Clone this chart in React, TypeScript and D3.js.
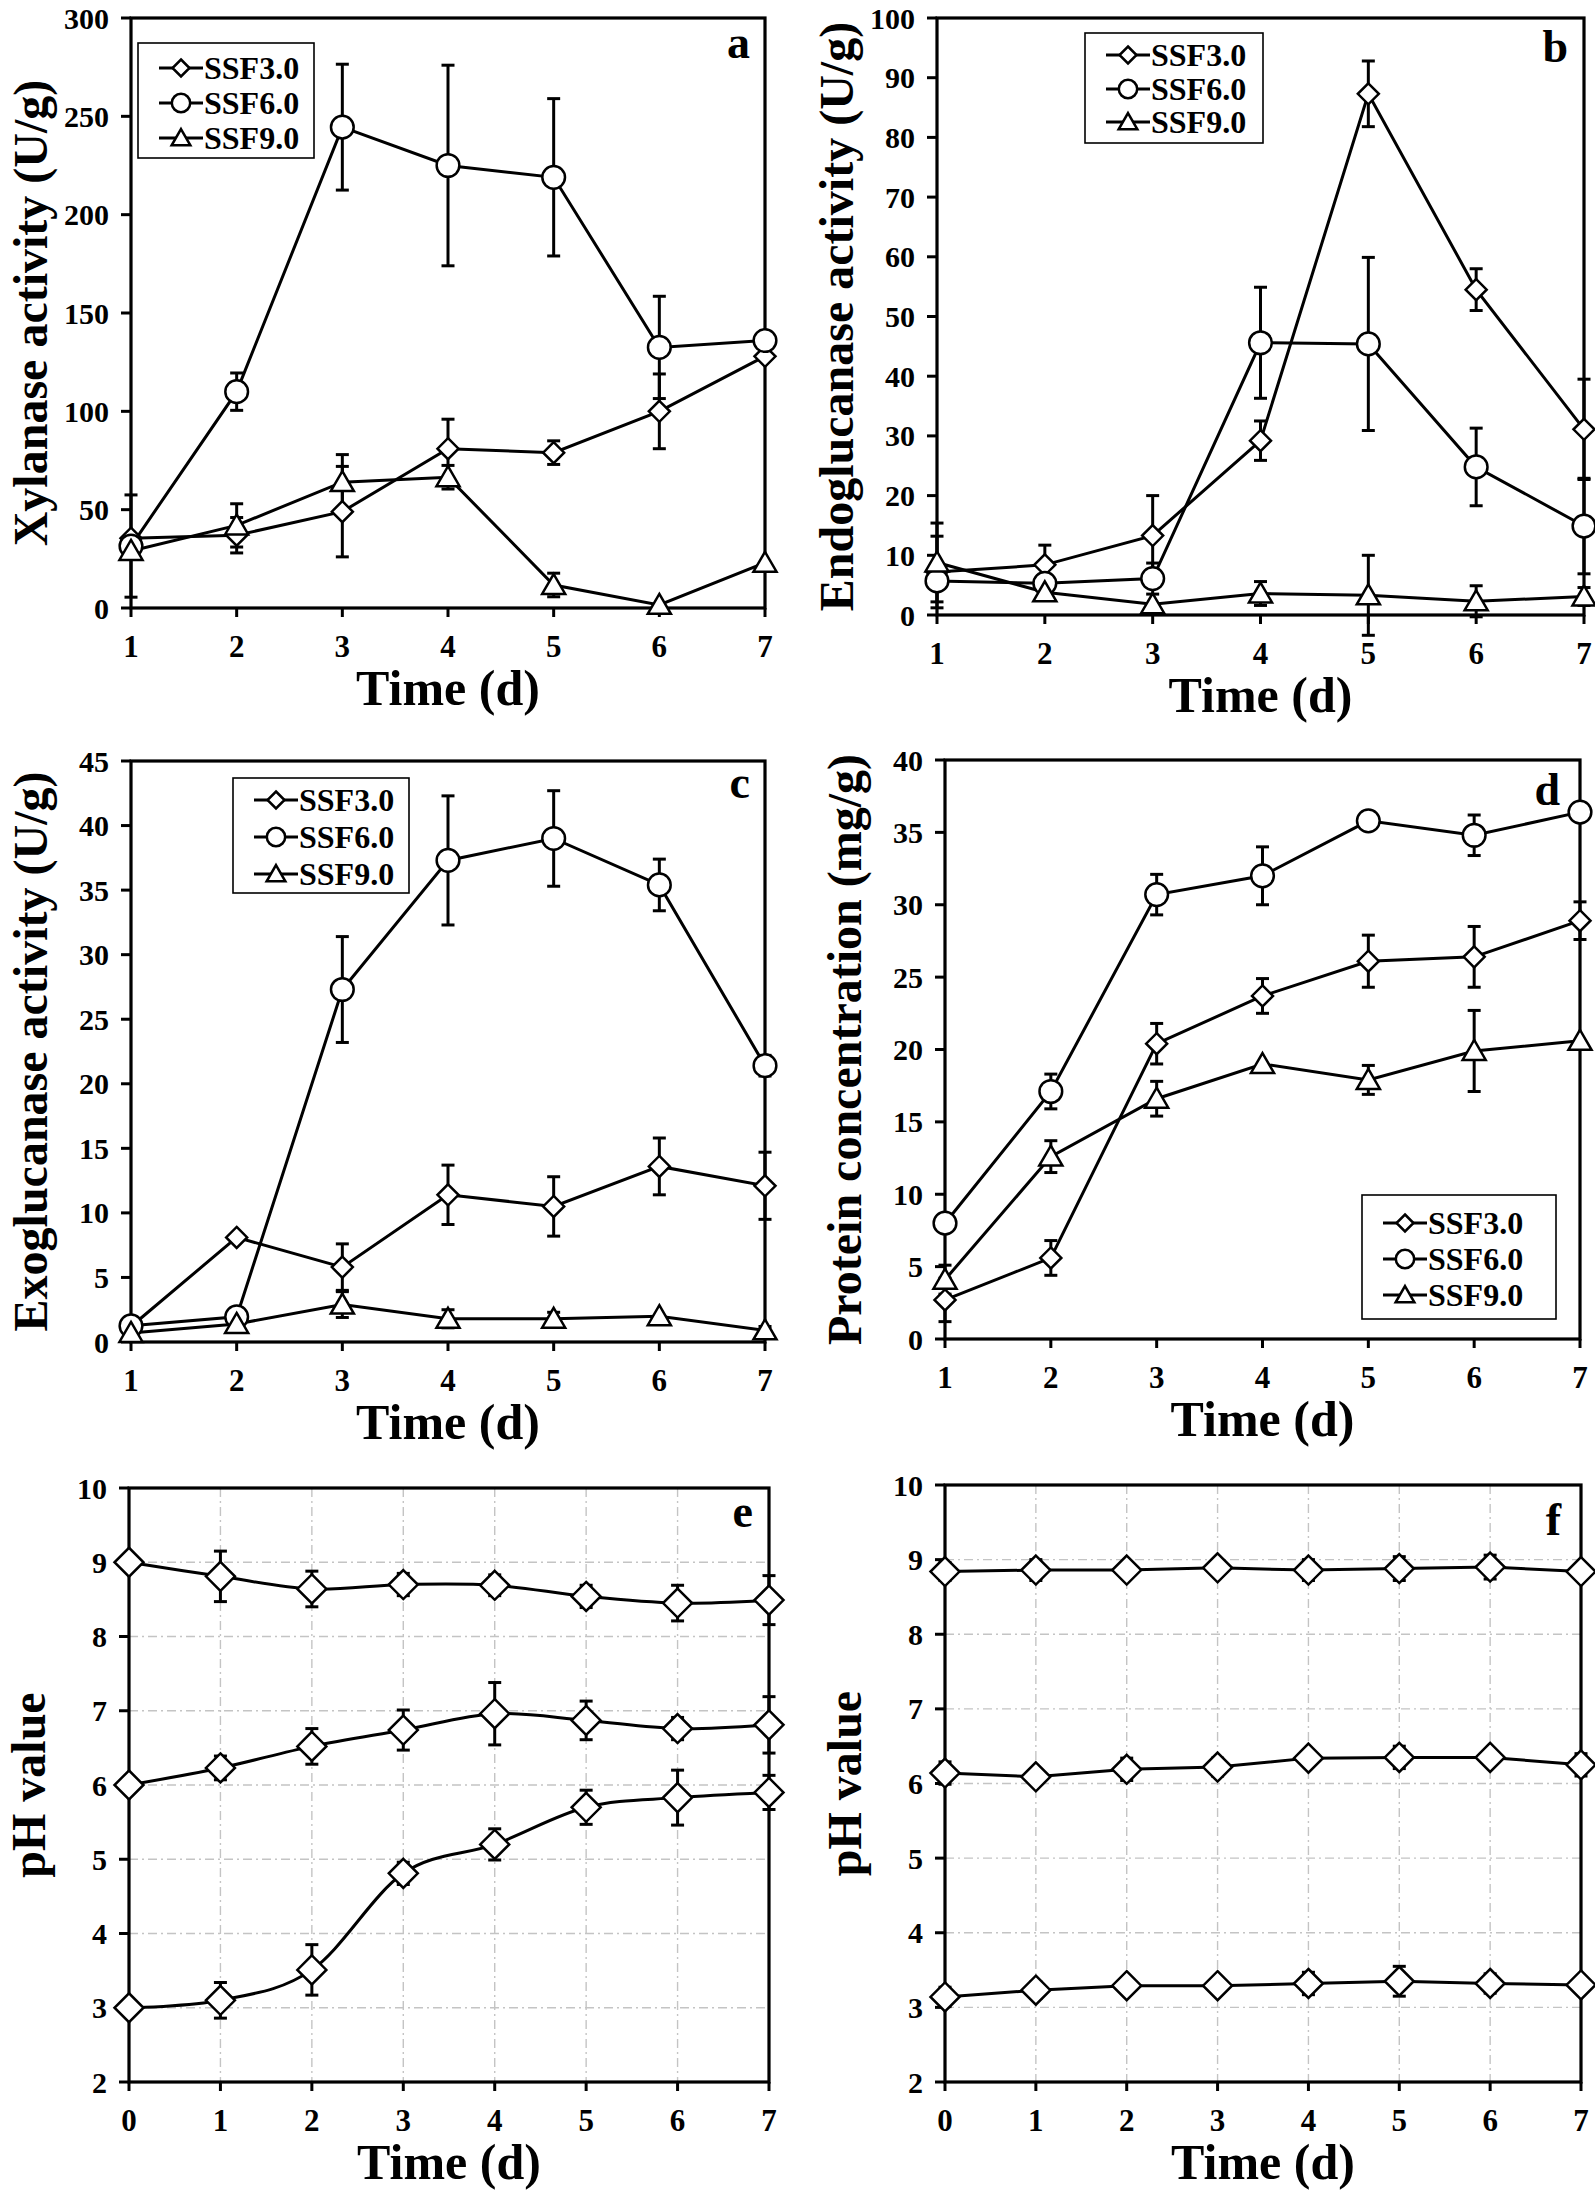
import React from "react";
import * as d3 from "d3";

// ---------- data ----------
const daysAD = [1, 2, 3, 4, 5, 6, 7];
const daysEF = [0, 1, 2, 3, 4, 5, 6, 7];
const seriesNames = ["SSF3.0", "SSF6.0", "SSF9.0"];

const xylSSF3 = [35.5, 37, 49, 81, 79, 100, 128];
const xylSSF3Err = [0, 9, 23, 15, 6, 19, 0];
const xylSSF6 = [31.5, 110, 244.5, 225, 219, 132.5, 136];
const xylSSF6Err = [26, 9.5, 32, 51, 40, 26, 0];
const xylSSF9 = [29, 42, 64, 66.5, 11.7, 1.6, 23];
const xylSSF9Err = [0, 11, 14, 6, 6, 0, 0];

const endoSSF3 = [7.2, 8.4, 13.3, 29.2, 87.3, 54.5, 31.1];
const endoSSF3Err = [6, 3.3, 6.7, 3.3, 5.5, 3.5, 8.4];
const endoSSF6 = [5.7, 5.3, 6.1, 45.6, 45.4, 24.8, 14.9];
const endoSSF6Err = [0, 0, 2.6, 9.3, 14.5, 6.5, 8];
const endoSSF9 = [8.8, 3.8, 1.8, 3.6, 3.3, 2.3, 3.1];
const endoSSF9Err = [6.6, 0, 0, 2, 6.7, 2.6, 1.5];

const exoSSF3 = [1.2, 8.1, 5.8, 11.4, 10.5, 13.6, 12.1];
const exoSSF3Err = [0, 0, 1.8, 2.3, 2.3, 2.2, 2.6];
const exoSSF6 = [1.25, 1.95, 27.3, 37.3, 39.0, 35.4, 21.4];
const exoSSF6Err = [0, 0, 4.1, 5, 3.7, 2, 0.8];
const exoSSF9 = [0.7, 1.4, 2.9, 1.8, 1.8, 2.0, 0.9];
const exoSSF9Err = [0, 0, 1, 0.7, 0.5, 0, 0.3];

const protSSF3 = [2.7, 5.6, 20.4, 23.7, 26.1, 26.4, 28.9];
const protSSF3Err = [1.5, 1.2, 1.4, 1.2, 1.8, 2.1, 1.3];
const protSSF6 = [8.0, 17.1, 30.7, 32.0, 35.8, 34.8, 36.4];
const protSSF6Err = [0, 1.2, 1.4, 2, 0, 1.4, 0];
const protSSF9 = [4.1, 12.6, 16.6, 19.0, 17.9, 19.9, 20.6];
const protSSF9Err = [1, 1.1, 1.2, 0, 1, 2.8, 0];

const phETop = [9.0, 8.81, 8.64, 8.70, 8.69, 8.54, 8.45, 8.49];
const phETopErr = [0, 0.34, 0.24, 0.15, 0.14, 0.15, 0.24, 0.33];
const phEMid = [6.0, 6.23, 6.52, 6.74, 6.96, 6.87, 6.76, 6.81];
const phEMidErr = [0, 0.16, 0.24, 0.27, 0.42, 0.26, 0.15, 0.38];
const phEBot = [3.0, 3.10, 3.51, 4.81, 5.2, 5.7, 5.83, 5.9];
const phEBotErr = [0, 0.24, 0.34, 0.15, 0.21, 0.23, 0.37, 0.23];

const phFTop = [8.84, 8.86, 8.86, 8.89, 8.86, 8.88, 8.90, 8.84];
const phFTopErr = [0.12, 0.14, 0, 0.1, 0.14, 0.16, 0.16, 0];
const phFMid = [6.14, 6.09, 6.19, 6.22, 6.34, 6.35, 6.35, 6.25];
const phFMidErr = [0.15, 0, 0.15, 0.12, 0, 0.15, 0, 0.15];
const phFBot = [3.14, 3.23, 3.29, 3.29, 3.32, 3.35, 3.32, 3.3];
const phFBotErr = [0.13, 0.11, 0, 0, 0.15, 0.2, 0.13, 0];

const ticksXyl = [0, 50, 100, 150, 200, 250, 300];
const ticksEndo = [0, 10, 20, 30, 40, 50, 60, 70, 80, 90, 100];
const ticksExo = [0, 5, 10, 15, 20, 25, 30, 35, 40, 45];
const ticksProt = [0, 5, 10, 15, 20, 25, 30, 35, 40];
const ticksPH = [2, 3, 4, 5, 6, 7, 8, 9, 10];

// ---------- drawing helpers ----------
const FONT = "'Liberation Serif', 'Times New Roman', Times, serif";
type Mk = "diamond" | "circle" | "triangle";

function markerPath(type: Mk, x: number, y: number, s: number) {
  if (type === "diamond")
    return `M${x},${y - s}L${x + s},${y}L${x},${y + s}L${x - s},${y}Z`;
  if (type === "triangle") {
    const w = s * 1.1, h = s * 0.95;
    return `M${x},${y - h * 1.1}L${x + w},${y + h * 0.9}L${x - w},${y + h * 0.9}Z`;
  }
  return "";
}

function Marker({ type, x, y, s }: { type: Mk; x: number; y: number; s: number }) {
  if (type === "circle")
    return <circle cx={x} cy={y} r={s * 1.08} fill="#fff" stroke="#000" strokeWidth={2.5} />;
  return <path d={markerPath(type, x, y, s)} fill="#fff" stroke="#000" strokeWidth={2.5} strokeLinejoin="miter" />;
}

type Series = { values: number[]; errs: number[]; marker: Mk };

type PanelProps = {
  x0: number; x1: number; yTop: number; yBot: number;
  xDom: [number, number]; xs: number[]; yDom: [number, number]; yTicks: number[];
  series: Series[]; letter: string; letterDx: number; letterDy: number;
  yTitle: string; grid?: boolean; smooth?: boolean; msize: number;
  legend?: { x: number; y: number; w: number; h: number; rows: number[] };
};

function Panel(p: PanelProps) {
  const x = d3.scaleLinear().domain(p.xDom).range([p.x0, p.x1]);
  const y = d3.scaleLinear().domain(p.yDom).range([p.yBot, p.yTop]);
  const line = d3
    .line<number>()
    .x((_, i) => x(p.xs[i]))
    .y((v) => y(v))
    .curve(p.smooth ? d3.curveCardinal.tension(0) : d3.curveLinear);
  const xt = d3.range(p.xDom[0], p.xDom[1] + 1);
  const cx = (p.x0 + p.x1) / 2;
  const cy = (p.yTop + p.yBot) / 2;
  return (
    <g>
      {p.grid && (
        <g stroke="#c4c4c4" strokeWidth={1.4} strokeDasharray="9,4,2,4">
          {xt.slice(1, -1).map((t) => (
            <line key={"gx" + t} x1={x(t)} x2={x(t)} y1={p.yTop} y2={p.yBot} />
          ))}
          {p.yTicks.slice(1, -1).map((t) => (
            <line key={"gy" + t} x1={p.x0} x2={p.x1} y1={y(t)} y2={y(t)} />
          ))}
        </g>
      )}
      {/* frame */}
      <rect x={p.x0} y={p.yTop} width={p.x1 - p.x0} height={p.yBot - p.yTop} fill="none" stroke="#000" strokeWidth={3.2} />
      {/* y ticks */}
      {p.yTicks.map((t) => (
        <g key={"yt" + t}>
          <line x1={p.x0 - 10} x2={p.x0} y1={y(t)} y2={y(t)} stroke="#000" strokeWidth={3} />
          <text x={p.x0 - 22} y={y(t)} dy="0.35em" textAnchor="end" fontFamily={FONT} fontWeight="bold" fontSize={30}>
            {t}
          </text>
        </g>
      ))}
      {/* x ticks */}
      {xt.map((t) => (
        <g key={"xt" + t}>
          <line x1={x(t)} x2={x(t)} y1={p.yBot} y2={p.yBot + 9} stroke="#000" strokeWidth={3} />
          <text x={x(t)} y={p.yBot + 49} textAnchor="middle" fontFamily={FONT} fontWeight="bold" fontSize={31}>
            {t}
          </text>
        </g>
      ))}
      {/* titles */}
      <text x={cx} y={p.yBot + 97} textAnchor="middle" fontFamily={FONT} fontWeight="bold" fontSize={50}>
        Time (d)
      </text>
      <text
        transform={`translate(${p.x0 - 84},${cy}) rotate(-90)`}
        textAnchor="middle"
        fontFamily={FONT}
        fontWeight="bold"
        fontSize={48}
      >
        {p.yTitle}
      </text>
      <text x={p.x1 - p.letterDx} y={p.yTop + p.letterDy} textAnchor="end" fontFamily={FONT} fontWeight="bold" fontSize={46}>
        {p.letter}
      </text>
      {/* lines */}
      {p.series.map((s, si) => (
        <path key={"l" + si} d={line(s.values) || ""} fill="none" stroke="#000" strokeWidth={3} />
      ))}
      {/* error bars */}
      {p.series.map((s, si) =>
        s.values.map((v, i) =>
          s.errs[i] > 0 ? (
            <g key={"e" + si + "-" + i} stroke="#000" strokeWidth={3}>
              <line x1={x(p.xs[i])} x2={x(p.xs[i])} y1={y(v - s.errs[i])} y2={y(v + s.errs[i])} />
              <line x1={x(p.xs[i]) - 6.5} x2={x(p.xs[i]) + 6.5} y1={y(v + s.errs[i])} y2={y(v + s.errs[i])} />
              <line x1={x(p.xs[i]) - 6.5} x2={x(p.xs[i]) + 6.5} y1={y(v - s.errs[i])} y2={y(v - s.errs[i])} />
            </g>
          ) : null
        )
      )}
      {/* markers */}
      {p.series.map((s, si) =>
        s.values.map((v, i) => (
          <Marker key={"m" + si + "-" + i} type={s.marker} x={x(p.xs[i])} y={y(v)} s={p.msize} />
        ))
      )}
      {/* legend */}
      {p.legend && (
        <g>
          <rect x={p.legend.x} y={p.legend.y} width={p.legend.w} height={p.legend.h} fill="#fff" stroke="#000" strokeWidth={1.6} />
          {p.series.map((s, si) => {
            const ry = p.legend!.y + p.legend!.rows[si];
            const lx = p.legend!.x;
            return (
              <g key={"lg" + si}>
                <line x1={lx + 21} x2={lx + 65} y1={ry} y2={ry} stroke="#000" strokeWidth={3} />
                <Marker type={s.marker} x={lx + 43} y={ry} s={8.5} />
                <text x={lx + 66} y={ry + 11} fontFamily={FONT} fontWeight="bold" fontSize={32}>
                  {seriesNames[si]}
                </text>
              </g>
            );
          })}
        </g>
      )}
    </g>
  );
}

const mk3: Mk[] = ["diamond", "circle", "triangle"];
const legendRows = [25, 60, 95];

export default function App() {
  return (
    <svg
      width={1595}
      height={2193}
      style={{ position: "absolute", left: 0, top: 0, background: "#fff" }}
      xmlns="http://www.w3.org/2000/svg"
    >
      <rect width={1595} height={2193} fill="#fff" />
      <Panel
        x0={131} x1={765} yTop={18} yBot={608}
        xDom={[1, 7]} xs={daysAD} yDom={[0, 300]} yTicks={ticksXyl}
        series={[
          { values: xylSSF3, errs: xylSSF3Err, marker: mk3[0] },
          { values: xylSSF6, errs: xylSSF6Err, marker: mk3[1] },
          { values: xylSSF9, errs: xylSSF9Err, marker: mk3[2] },
        ]}
        letter="a" letterDx={15} letterDy={40} msize={10.5}
        yTitle="Xylanase activity (U/g)"
        legend={{ x: 138, y: 43, w: 176, h: 115, rows: legendRows }}
      />
      <Panel
        x0={937} x1={1584} yTop={18} yBot={615}
        xDom={[1, 7]} xs={daysAD} yDom={[0, 100]} yTicks={ticksEndo}
        series={[
          { values: endoSSF3, errs: endoSSF3Err, marker: mk3[0] },
          { values: endoSSF6, errs: endoSSF6Err, marker: mk3[1] },
          { values: endoSSF9, errs: endoSSF9Err, marker: mk3[2] },
        ]}
        letter="b" letterDx={16} letterDy={44} msize={10.5}
        yTitle="Endoglucanase activity (U/g)"
        legend={{ x: 1085, y: 33, w: 178, h: 110, rows: [22, 56, 89] }}
      />
      <Panel
        x0={131} x1={765} yTop={761} yBot={1342}
        xDom={[1, 7]} xs={daysAD} yDom={[0, 45]} yTicks={ticksExo}
        series={[
          { values: exoSSF3, errs: exoSSF3Err, marker: mk3[0] },
          { values: exoSSF6, errs: exoSSF6Err, marker: mk3[1] },
          { values: exoSSF9, errs: exoSSF9Err, marker: mk3[2] },
        ]}
        letter="c" letterDx={15} letterDy={37} msize={10.5}
        yTitle="Exoglucanase activity (U/g)"
        legend={{ x: 233, y: 778, w: 176, h: 115, rows: [22, 59, 96] }}
      />
      <Panel
        x0={945} x1={1580} yTop={760} yBot={1339}
        xDom={[1, 7]} xs={daysAD} yDom={[0, 40]} yTicks={ticksProt}
        series={[
          { values: protSSF3, errs: protSSF3Err, marker: mk3[0] },
          { values: protSSF6, errs: protSSF6Err, marker: mk3[1] },
          { values: protSSF9, errs: protSSF9Err, marker: mk3[2] },
        ]}
        letter="d" letterDx={20} letterDy={45} msize={10.5}
        yTitle="Protein concentration (mg/g)"
        legend={{ x: 1362, y: 1195, w: 194, h: 124, rows: [28, 64, 100] }}
      />
      <Panel
        x0={129} x1={769} yTop={1488} yBot={2082}
        xDom={[0, 7]} xs={daysEF} yDom={[2, 10]} yTicks={ticksPH}
        series={[
          { values: phETop, errs: phETopErr, marker: "diamond" },
          { values: phEMid, errs: phEMidErr, marker: "diamond" },
          { values: phEBot, errs: phEBotErr, marker: "diamond" },
        ]}
        letter="e" letterDx={16} letterDy={39} msize={14.5} grid smooth
        yTitle="pH value"
      />
      <Panel
        x0={945} x1={1581} yTop={1485} yBot={2082}
        xDom={[0, 7]} xs={daysEF} yDom={[2, 10]} yTicks={ticksPH}
        series={[
          { values: phFTop, errs: phFTopErr, marker: "diamond" },
          { values: phFMid, errs: phFMidErr, marker: "diamond" },
          { values: phFBot, errs: phFBotErr, marker: "diamond" },
        ]}
        letter="f" letterDx={20} letterDy={50} msize={14.5} grid
        yTitle="pH value"
      />
    </svg>
  );
}
